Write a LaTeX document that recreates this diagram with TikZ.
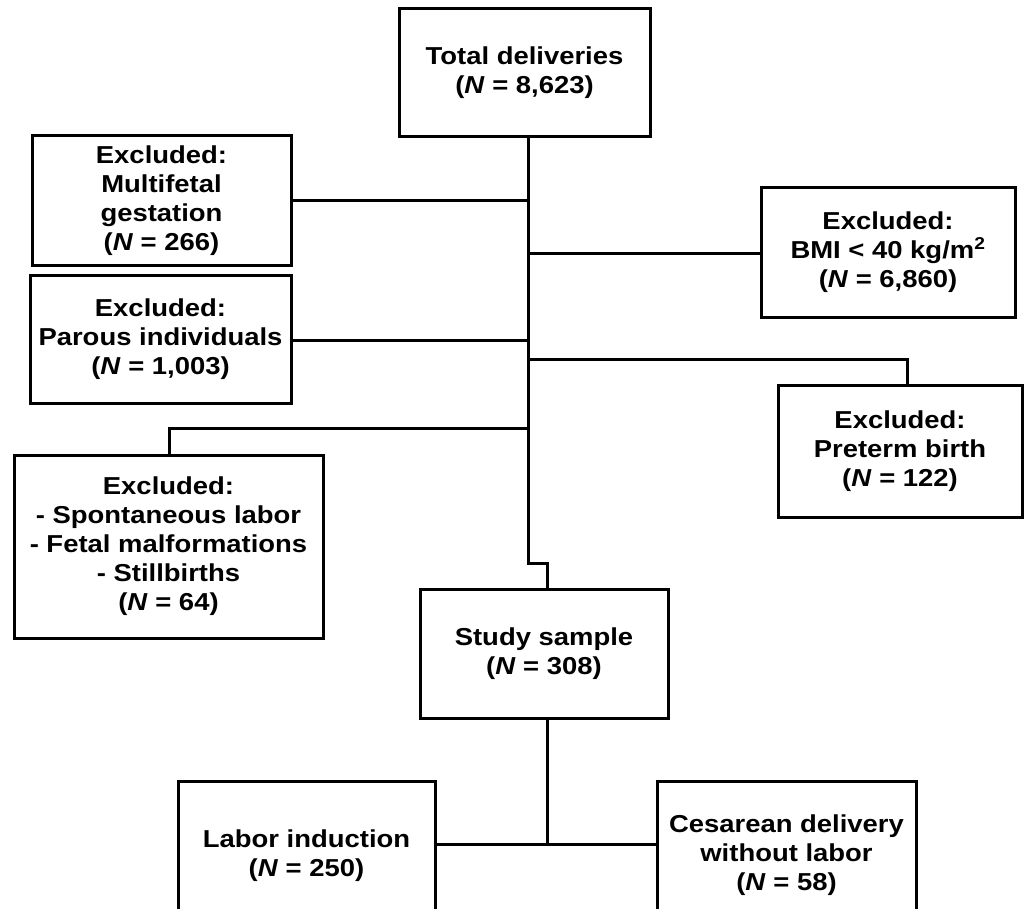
\documentclass[tikz,border=0pt]{standalone}
\usepackage{fontspec}
\setmainfont{Liberation Sans}[FakeStretch=1.12]
\begin{document}
\begin{tikzpicture}[x=1pt,y=-1pt,
  box/.style={draw,line width=3pt,rectangle,align=center,inner sep=0pt,
    font=\fontsize{24.5}{29}\selectfont\bfseries},
  conn/.style={line width=3pt}]
\useasboundingbox (0,0) rectangle (1024,909);
\node[box,minimum width=251,minimum height=128] (total) at (524.5,73) {Total deliveries\\(\textit{N} = 8,623)};
\node[box,minimum width=259,minimum height=129] (multi) at (161.5,200.5) {Excluded:\\Multifetal\\gestation\\(\textit{N} = 266)};
\node[box,minimum width=254,minimum height=129] (bmi) at (888,252.5) {Excluded:\\BMI < 40 kg/m\textsuperscript{2}\\(\textit{N} = 6,860)};
\node[box,minimum width=261,minimum height=128] (parous) at (160.5,339) {Excluded:\\Parous individuals\\(\textit{N} = 1,003)};
\node[box,minimum width=244,minimum height=132] (preterm) at (900,451) {Excluded:\\Preterm birth\\(\textit{N} = 122)};
\node[box,minimum width=309,minimum height=183] (spont) at (168.5,546.5) {Excluded:\\- Spontaneous labor\\- Fetal malformations\\- Stillbirths\\(\textit{N} = 64)};
\node[box,minimum width=248,minimum height=129] (study) at (544,653.5) {Study sample\\(\textit{N} = 308)};
\node[box,minimum width=257,minimum height=150] (labor) at (306.5,856) {\raisebox{10pt}{\begin{tabular}{@{}c@{}}Labor induction\\(\textit{N} = 250)\end{tabular}}};
\node[box,minimum width=259,minimum height=150] (ces) at (786.5,856) {\raisebox{12pt}{\begin{tabular}{@{}c@{}}Cesarean delivery\\without labor\\(\textit{N} = 58)\end{tabular}}};
\coordinate (t0) at (528,137);
\coordinate (tm) at (528,201);
\coordinate (tb) at (528,253);
\coordinate (tp) at (528,340);
\coordinate (tt) at (528,359);
\coordinate (ts) at (528,428);
\coordinate (tk) at (528,563);
\coordinate (sk) at (547,563);
\coordinate (sb) at (547,718);
\coordinate (sj) at (547,844);
\draw[conn] (t0) -- (tk) -- (sk) -- (study.north -| sk);
\draw[conn] (multi.east |- tm) -- (tm);
\draw[conn] (tb) -- (bmi.west |- tb);
\draw[conn] (parous.east |- tp) -- (tp);
\draw[conn] (tt) -- (tt -| 907,0) -- (preterm.north -| 907,0);
\draw[conn] (ts) -- (ts -| 169,0) -- (spont.north -| 169,0);
\draw[conn] (sb) -- (sj);
\draw[conn] (labor.east |- sj) -- (ces.west |- sj);
\end{tikzpicture}
\end{document}
